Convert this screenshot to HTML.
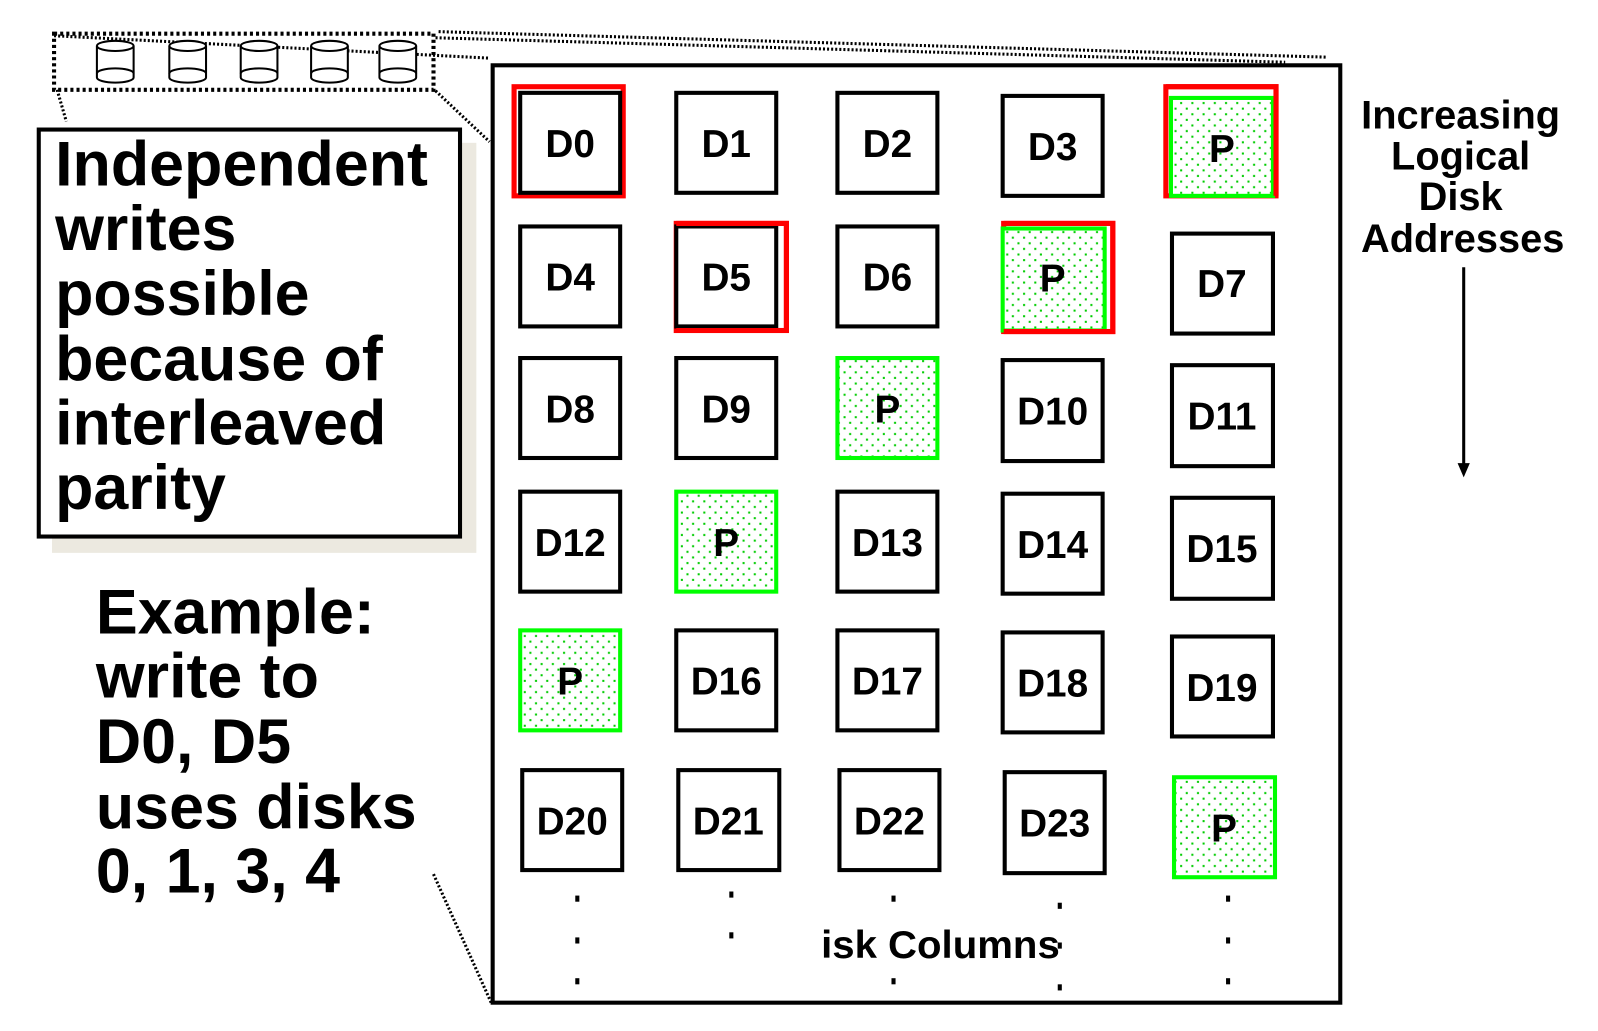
<!DOCTYPE html>
<html><head><meta charset="utf-8"><style>
html,body{margin:0;padding:0;background:#fff;}
svg{display:block;}
text{font-family:"Liberation Sans",sans-serif;font-weight:bold;fill:#000;}
</style></head><body>
<svg width="1598" height="1031" viewBox="0 0 1598 1031" xmlns="http://www.w3.org/2000/svg">
<defs>
<pattern id="dots" width="11" height="11" patternUnits="userSpaceOnUse">
<rect width="11" height="11" fill="#fff"/>
<rect x="2" y="2" width="2" height="2" fill="#0c0"/>
<rect x="7.5" y="7.5" width="2" height="2" fill="#0c0"/>
</pattern>
</defs>
<g transform="translate(0,-1) scale(1.02)">
<rect x="53" y="34" width="372" height="55" fill="none" stroke="#000" stroke-width="4" stroke-dasharray="3,3"/>
<path d="M53,36 L480,58 M430,32 L1300,57 M427,38 L1260,62" stroke="#000" stroke-width="3" stroke-dasharray="2,2" fill="none"/>
<path d="M56,89 L65,120 M427,90 L480,140 M425,858 L482,985" stroke="#000" stroke-width="3" stroke-dasharray="2,2" fill="none"/>
<g fill="#fff" stroke="#000" stroke-width="2">
<g transform="translate(113,0)"><path d="M-18,46 L-18,77 A18,5 0 0 0 18,77 L18,46"/><ellipse cx="0" cy="46" rx="18" ry="5"/><path d="M-18,73 A18,5 0 0 1 18,73" fill="none"/></g>
<g transform="translate(184,0)"><path d="M-18,46 L-18,77 A18,5 0 0 0 18,77 L18,46"/><ellipse cx="0" cy="46" rx="18" ry="5"/><path d="M-18,73 A18,5 0 0 1 18,73" fill="none"/></g>
<g transform="translate(254,0)"><path d="M-18,46 L-18,77 A18,5 0 0 0 18,77 L18,46"/><ellipse cx="0" cy="46" rx="18" ry="5"/><path d="M-18,73 A18,5 0 0 1 18,73" fill="none"/></g>
<g transform="translate(323,0)"><path d="M-18,46 L-18,77 A18,5 0 0 0 18,77 L18,46"/><ellipse cx="0" cy="46" rx="18" ry="5"/><path d="M-18,73 A18,5 0 0 1 18,73" fill="none"/></g>
<g transform="translate(390,0)"><path d="M-18,46 L-18,77 A18,5 0 0 0 18,77 L18,46"/><ellipse cx="0" cy="46" rx="18" ry="5"/><path d="M-18,73 A18,5 0 0 1 18,73" fill="none"/></g>
</g>
<rect x="51" y="141" width="416" height="402" fill="#ece9e0"/>
<rect x="38" y="128" width="413" height="399" fill="#fff" stroke="#000" stroke-width="4"/>
<g font-size="61.5">
<text x="54" y="183">Independent</text>
<text x="54" y="246">writes</text>
<text x="54" y="310">possible</text>
<text x="54" y="374">because of</text>
<text x="54" y="437">interleaved</text>
<text x="54" y="500">parity</text>
<text x="94" y="622">Example:</text>
<text x="94" y="685">write to</text>
<text x="94" y="749">D0, D5</text>
<text x="94" y="813">uses disks</text>
<text x="94" y="876">0, 1, 3, 4</text>
</g>
<rect x="483" y="65" width="831" height="919" fill="none" stroke="#000" stroke-width="4"/>
<g font-size="39" text-anchor="middle">
<text x="1432" y="127">Increasing</text>
<text x="1432" y="167">Logical</text>
<text x="1432" y="207">Disk</text>
<text x="1434" y="248">Addresses</text>
</g>
<line x1="1435" y1="263" x2="1435" y2="458" stroke="#000" stroke-width="3"/>
<polygon points="1429,455 1441,455 1435,469" fill="#000"/>
<g fill="none" stroke="#f00" stroke-width="5">
<rect x="504" y="86" width="107" height="107"/>
<rect x="1143" y="86" width="108" height="107"/>
<rect x="663" y="220" width="108" height="105"/>
<rect x="984" y="220" width="107" height="106"/>
</g>
<g stroke-width="4">
<g fill="#fff" stroke="#000">
<rect x="510" y="92" width="98" height="98"/>
<rect x="663" y="92" width="98" height="98"/>
<rect x="821" y="92" width="98" height="98"/>
<rect x="983" y="95" width="98" height="98"/>
<rect x="510" y="223" width="98" height="98"/>
<rect x="663" y="223" width="98" height="98"/>
<rect x="821" y="223" width="98" height="98"/>
<rect x="1149" y="230" width="99" height="98"/>
<rect x="510" y="352" width="98" height="98"/>
<rect x="663" y="352" width="98" height="98"/>
<rect x="983" y="354" width="98" height="99"/>
<rect x="1149" y="359" width="99" height="99"/>
<rect x="510" y="483" width="98" height="98"/>
<rect x="821" y="483" width="98" height="98"/>
<rect x="983" y="485" width="98" height="98"/>
<rect x="1149" y="489" width="99" height="99"/>
<rect x="663" y="619" width="98" height="98"/>
<rect x="821" y="619" width="98" height="98"/>
<rect x="983" y="621" width="98" height="98"/>
<rect x="1149" y="625" width="99" height="98"/>
<rect x="512" y="756" width="98" height="98"/>
<rect x="665" y="756" width="99" height="98"/>
<rect x="823" y="756" width="98" height="98"/>
<rect x="985" y="758" width="98" height="99"/>
</g>
<g fill="url(#dots)" stroke="#0f0">
<rect x="1148" y="97" width="100" height="96"/>
<rect x="983" y="225" width="100" height="100"/>
<rect x="821" y="352" width="98" height="98"/>
<rect x="663" y="483" width="98" height="98"/>
<rect x="510" y="619" width="98" height="98"/>
<rect x="1151" y="763" width="99" height="98"/>
</g>
<g fill="none" stroke="#f00" stroke-width="5">
<path d="M1143,86 H1251 V193 M663,220 H771 V325 H663 M984,220 H1091 V326 H984"/>
</g>
</g>
<g font-size="38" text-anchor="middle">
<text x="559" y="155">D0</text><text x="712" y="155">D1</text><text x="870" y="155">D2</text><text x="1032" y="158">D3</text><text x="1198" y="160">P</text>
<text x="559" y="286">D4</text><text x="712" y="286">D5</text><text x="870" y="286">D6</text><text x="1032" y="287">P</text><text x="1198" y="292">D7</text>
<text x="559" y="415">D8</text><text x="712" y="415">D9</text><text x="870" y="415">P</text><text x="1032" y="417">D10</text><text x="1198" y="422">D11</text>
<text x="559" y="546">D12</text><text x="712" y="546">P</text><text x="870" y="546">D13</text><text x="1032" y="548">D14</text><text x="1198" y="552">D15</text>
<text x="559" y="682">P</text><text x="712" y="682">D16</text><text x="870" y="682">D17</text><text x="1032" y="684">D18</text><text x="1198" y="688">D19</text>
<text x="561" y="819">D20</text><text x="714" y="819">D21</text><text x="872" y="819">D22</text><text x="1034" y="821">D23</text><text x="1200" y="826">P</text>
</g>
<text x="805" y="940" font-size="38" textLength="234" lengthAdjust="spacingAndGlyphs">isk Columns</text>
<g fill="#000">
<rect x="564" y="879" width="4" height="6"/><rect x="564" y="920" width="4" height="6"/><rect x="564" y="960" width="4" height="6"/>
<rect x="715" y="875" width="4" height="6"/><rect x="715" y="915" width="4" height="6"/>
<rect x="874" y="879" width="4" height="6"/><rect x="874" y="960" width="4" height="6"/>
<rect x="1037" y="886" width="4" height="6"/><rect x="1037" y="925" width="4" height="6"/><rect x="1037" y="966" width="4" height="6"/>
<rect x="1202" y="879" width="4" height="6"/><rect x="1202" y="920" width="4" height="6"/><rect x="1202" y="960" width="4" height="6"/>
</g>
</g>
</svg>
</body></html>
